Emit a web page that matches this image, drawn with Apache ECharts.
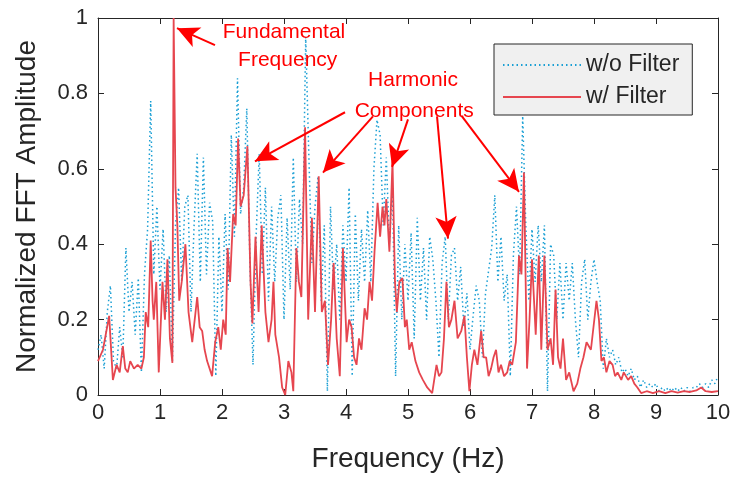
<!DOCTYPE html>
<html>
<head>
<meta charset="utf-8">
<script src="https://cdn.jsdelivr.net/npm/echarts@6/dist/echarts.min.js"></script>
<style>
html, body { margin: 0; padding: 0; background: #fff; }
#chart { width: 734px; height: 478px; }
</style>
</head>
<body>
<div id="chart"></div>
<script>
// w/o Filter: amplitudes on a 0.05 Hz grid, 0 .. 10 Hz
const woStep = 0.05;
const woFilterAmp = [
  0.12, 0.16, 0.07, 0.22, 0.29, 0.09, 0.07, 0.18, 0.10, 0.39,
  0.22, 0.30, 0.16, 0.31, 0.06, 0.32, 0.44, 0.78, 0.32, 0.50,
  0.28, 0.44, 0.22, 0.37, 0.09, 0.45, 0.55, 0.30, 0.50, 0.53,
  0.22, 0.45, 0.64, 0.30, 0.63, 0.32, 0.51, 0.46, 0.05, 0.42,
  0.22, 0.48, 0.28, 0.69, 0.42, 0.84, 0.48, 0.55, 0.76, 0.35,
  0.08, 0.42, 0.64, 0.32, 0.55, 0.25, 0.50, 0.30, 0.47, 0.53,
  0.20, 0.47, 0.28, 0.63, 0.30, 0.52, 0.40, 0.95, 0.64, 0.35,
  0.50, 0.58, 0.25, 0.45, 0.01, 0.50, 0.28, 0.40, 0.20, 0.45,
  0.30, 0.55, 0.05, 0.48, 0.25, 0.44, 0.30, 0.49, 0.30, 0.60,
  0.73, 0.69, 0.45, 0.63, 0.40, 0.55, 0.05, 0.45, 0.20, 0.40,
  0.25, 0.43, 0.15, 0.47, 0.25, 0.39, 0.20, 0.42, 0.36, 0.25,
  0.10, 0.35, 0.42, 0.20, 0.37, 0.39, 0.25, 0.34, 0.18, 0.27,
  0.12, 0.21, 0.29, 0.25, 0.10, 0.27, 0.33, 0.39, 0.53, 0.30,
  0.42, 0.25, 0.32, 0.05, 0.37, 0.50, 0.32, 0.74, 0.45, 0.25,
  0.44, 0.30, 0.45, 0.30, 0.45, 0.01, 0.40, 0.37, 0.20, 0.35,
  0.20, 0.35, 0.25, 0.35, 0.20, 0.10, 0.30, 0.36, 0.20, 0.30,
  0.36, 0.30, 0.25, 0.07, 0.15, 0.10, 0.12, 0.08, 0.10, 0.06,
  0.07, 0.05, 0.07, 0.04, 0.05, 0.02, 0.04, 0.02, 0.03, 0.02,
  0.03, 0.01, 0.02, 0.01, 0.02, 0.01, 0.02, 0.01, 0.02, 0.01,
  0.02, 0.01, 0.02, 0.02, 0.03, 0.02, 0.03, 0.02, 0.04, 0.03,
  0.05
];

// w/ Filter: [frequency (Hz), amplitude]
const wFilter = [
  [0, 0.09], [0.08, 0.12], [0.18, 0.21], [0.24, 0.04], [0.3, 0.08], [0.35, 0.06],
  [0.4, 0.13], [0.44, 0.07], [0.48, 0.06], [0.52, 0.09], [0.58, 0.07], [0.64, 0.08],
  [0.7, 0.07], [0.74, 0.1], [0.77, 0.22], [0.81, 0.18], [0.85, 0.41], [0.88, 0.25],
  [0.9, 0.2], [0.94, 0.3], [0.98, 0.06], [1.04, 0.3], [1.08, 0.2], [1.12, 0.36],
  [1.16, 0.15], [1.2, 0.085], [1.22, 1.0], [1.25, 0.55], [1.28, 0.45], [1.31, 0.25],
  [1.35, 0.3], [1.41, 0.40], [1.46, 0.22], [1.52, 0.14], [1.6, 0.26], [1.64, 0.18],
  [1.68, 0.17], [1.72, 0.12], [1.76, 0.09], [1.84, 0.05], [1.89, 0.14], [1.94, 0.18],
  [1.98, 0.12], [2.02, 0.2], [2.06, 0.16], [2.09, 0.39], [2.13, 0.3], [2.18, 0.48],
  [2.22, 0.45], [2.26, 0.68], [2.3, 0.5], [2.35, 0.53], [2.41, 0.66], [2.46, 0.3],
  [2.49, 0.19], [2.54, 0.42], [2.59, 0.22], [2.64, 0.45], [2.7, 0.22], [2.75, 0.14],
  [2.8, 0.2], [2.83, 0.3], [2.86, 0.16], [2.92, 0.1], [2.97, 0.02], [3.02, 0.0],
  [3.07, 0.09], [3.12, 0.06], [3.15, 0.01], [3.2, 0.39], [3.24, 0.3], [3.28, 0.26],
  [3.34, 0.71], [3.39, 0.2], [3.45, 0.47], [3.5, 0.22], [3.56, 0.58], [3.61, 0.22],
  [3.66, 0.25], [3.71, 0.08], [3.76, 0.2], [3.8, 0.35], [3.85, 0.15], [3.9, 0.05],
  [3.95, 0.39], [4.01, 0.14], [4.05, 0.2], [4.09, 0.18], [4.13, 0.1], [4.17, 0.08],
  [4.21, 0.15], [4.25, 0.12], [4.3, 0.23], [4.34, 0.2], [4.38, 0.3], [4.42, 0.25],
  [4.46, 0.38], [4.51, 0.51], [4.55, 0.42], [4.59, 0.5], [4.62, 0.45], [4.65, 0.52],
  [4.7, 0.38], [4.75, 0.62], [4.79, 0.3], [4.82, 0.22], [4.86, 0.3], [4.91, 0.31],
  [4.95, 0.18], [4.98, 0.2], [5.02, 0.12], [5.06, 0.14], [5.12, 0.09], [5.18, 0.06],
  [5.24, 0.04], [5.31, 0.02], [5.39, 0.005], [5.46, 0.08], [5.5, 0.05], [5.54, 0.06],
  [5.58, 0.15], [5.62, 0.30], [5.66, 0.18], [5.7, 0.2], [5.75, 0.25], [5.8, 0.15],
  [5.86, 0.17], [5.91, 0.21], [5.95, 0.1], [5.99, 0.01], [6.03, 0.08], [6.07, 0.12],
  [6.12, 0.08], [6.18, 0.17], [6.22, 0.1], [6.26, 0.1], [6.3, 0.05], [6.34, 0.07],
  [6.38, 0.1], [6.42, 0.12], [6.46, 0.06], [6.5, 0.08], [6.55, 0.05], [6.6, 0.06],
  [6.64, 0.09], [6.68, 0.08], [6.74, 0.14], [6.79, 0.37], [6.83, 0.32], [6.87, 0.59],
  [6.92, 0.07], [6.96, 0.2], [7.0, 0.36], [7.06, 0.16], [7.11, 0.37], [7.15, 0.12],
  [7.2, 0.37], [7.25, 0.12], [7.3, 0.15], [7.34, 0.08], [7.38, 0.28], [7.42, 0.1],
  [7.46, 0.07], [7.5, 0.15], [7.55, 0.04], [7.6, 0.06], [7.67, 0.01], [7.73, 0.03],
  [7.78, 0.07], [7.83, 0.1], [7.88, 0.14], [7.95, 0.12], [8.04, 0.25], [8.08, 0.2],
  [8.12, 0.09], [8.16, 0.1], [8.2, 0.06], [8.25, 0.09], [8.3, 0.08], [8.34, 0.05],
  [8.38, 0.06], [8.44, 0.04], [8.48, 0.06], [8.55, 0.04], [8.6, 0.05], [8.65, 0.03],
  [8.7, 0.02], [8.76, 0.005], [8.85, 0.01], [8.95, 0.005], [9.05, 0.01], [9.15, 0.005],
  [9.25, 0.01], [9.35, 0.006], [9.45, 0.01], [9.55, 0.008], [9.65, 0.012], [9.73, 0.02],
  [9.8, 0.01], [9.9, 0.008], [10, 0.01]
];

// annotation texts: [text, freq, amp] (centre of text)
const notes = [
  ['Fundamental', 3.0, 0.963],
  ['Frequency', 3.06, 0.889],
  ['Harmonic', 5.08, 0.834],
  ['Components', 5.10, 0.752]
];
// arrows: [fromFreq, fromAmp, toFreq, toAmp]
const arrows = [
  [1.887, 0.928, 1.274, 0.973],
  [3.984, 0.750, 2.532, 0.620],
  [4.435, 0.739, 3.629, 0.590],
  [5.000, 0.731, 4.742, 0.605],
  [5.468, 0.739, 5.645, 0.415],
  [5.871, 0.739, 6.790, 0.539]
];

const font = '"Liberation Sans", Arial, Helvetica, sans-serif';
const ink = '#262626';
const blue = '#1a9fd4';
const red = '#e6464f';

const woData = woFilterAmp.map((v, i) => [i * woStep, v]);

const frameAxis = {
  type: 'value',
  axisLine: { show: true, onZero: false, lineStyle: { color: ink, width: 1 } },
  axisTick: { show: true, inside: true, length: 6, lineStyle: { color: ink } },
  splitLine: { show: false }
};

var myChart = echarts.init(document.getElementById('chart'));
var option = {
  animation: false,
  textStyle: { fontFamily: font },
  grid: { left: 98, right: 16, top: 18, bottom: 81 },
  legend: {
    orient: 'vertical',
    left: 494,
    top: 44,
    padding: [8, 13, 5, 8],
    backgroundColor: '#f0f0f0',
    borderColor: ink,
    borderWidth: 1,
    itemWidth: 78,
    itemHeight: 14,
    itemGap: 6,
    // hide the marker dot, keep the line sample
    itemStyle: { opacity: 0 },
    textStyle: { fontSize: 23, color: ink, lineHeight: 26 },
    data: ['w/o Filter', 'w/ Filter']
  },
  xAxis: [
    Object.assign({}, frameAxis, {
      min: 0, max: 10, interval: 1,
      name: 'Frequency (Hz)', nameLocation: 'middle', nameGap: 50,
      nameTextStyle: { fontSize: 28, color: ink },
      axisLabel: { fontSize: 22, color: ink, margin: 7 }
    }),
    Object.assign({}, frameAxis, {
      position: 'top', min: 0, max: 10, interval: 1,
      axisLabel: { show: false }
    })
  ],
  yAxis: [
    Object.assign({}, frameAxis, {
      min: 0, max: 1, interval: 0.2,
      name: 'Normalized FFT Amplitude', nameLocation: 'middle', nameGap: 57,
      nameTextStyle: { fontSize: 28, color: ink },
      axisLabel: { fontSize: 22, color: ink, margin: 10 }
    }),
    Object.assign({}, frameAxis, {
      position: 'right', min: 0, max: 1, interval: 0.2,
      axisLabel: { show: false }
    })
  ],
  series: [
    {
      name: 'w/o Filter',
      type: 'line',
      data: woData,
      symbol: 'none',
      lineStyle: { color: blue, width: 1.5, type: [1.5, 3] },
      itemStyle: { color: blue }
    },
    {
      name: 'w/ Filter',
      type: 'line',
      data: wFilter,
      symbol: 'none',
      lineStyle: { color: red, width: 1.8 },
      itemStyle: { color: red },
      markLine: {
        silent: true,
        animation: false,
        symbol: ['none', 'arrow'],
        lineStyle: { color: '#ff0000', width: 2, type: 'solid' },
        label: { show: false },
        data: arrows.map(a => [
          { coord: [a[0], a[1]], symbol: 'none' },
          { coord: [a[2], a[3]], symbol: 'arrow', symbolSize: [16, 22] }
        ])
      },
      markPoint: {
        silent: true,
        animation: false,
        symbol: 'circle',
        symbolSize: 0,
        label: { show: true, position: 'inside', color: '#ff0000', fontSize: 21, formatter: '{b}' },
        data: notes.map(n => ({ name: n[0], coord: [n[1], n[2]] }))
      }
    }
  ]
};
myChart.setOption(option);
</script>
</body>
</html>
